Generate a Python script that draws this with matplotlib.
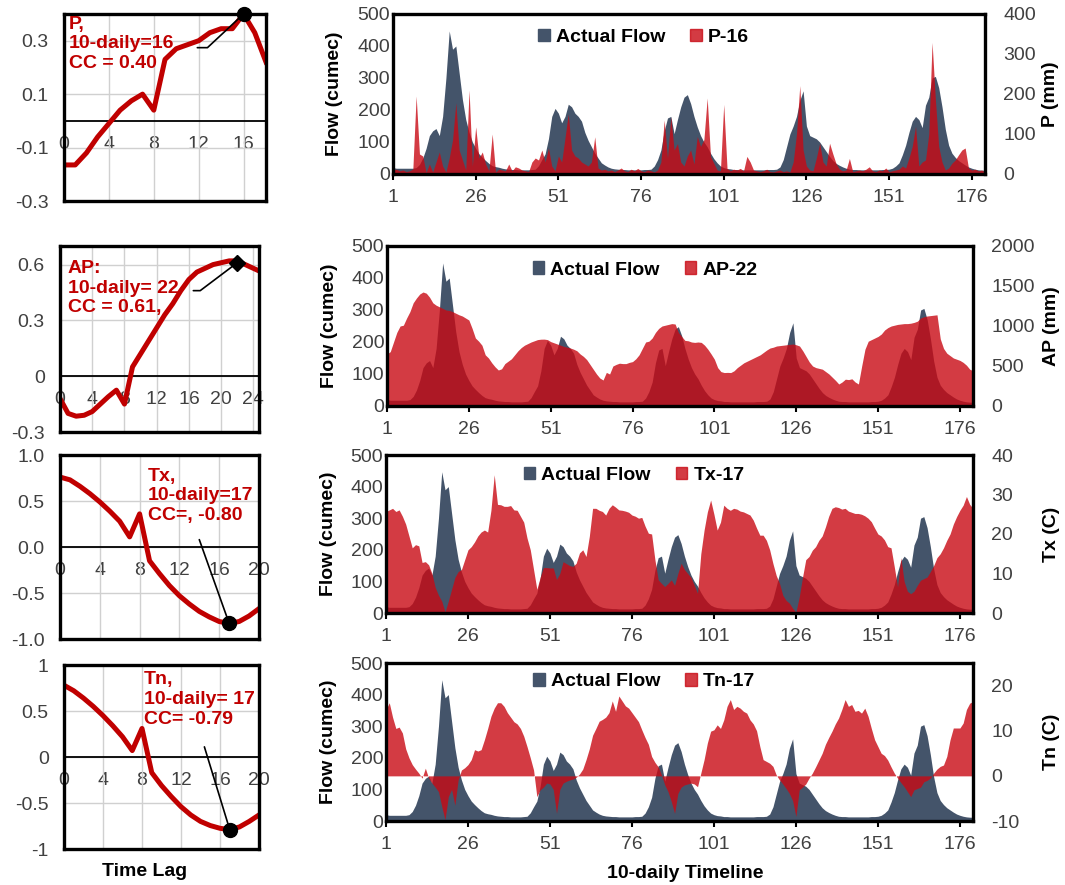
import matplotlib
matplotlib.use("Agg")
import matplotlib.pyplot as plt
from matplotlib.patches import Patch

plt.rcParams["font.family"] = ["Liberation Sans", "DejaVu Sans"]
plt.rcParams["axes.unicode_minus"] = False

W, H = 1065, 885

# cross-correlation vs lag (left column)
lag_p = list(range(0, 19))
cc_p = [-0.165, -0.165, -0.12, -0.06, -0.01, 0.04, 0.075, 0.10, 0.04, 0.23,
        0.27, 0.285, 0.30, 0.33, 0.345, 0.345, 0.40, 0.33, 0.22]
lag_ap = list(range(0, 26))
cc_ap = [-0.12, -0.2, -0.215, -0.21, -0.19, -0.15, -0.11, -0.075, -0.15, 0.05,
         0.12, 0.19, 0.26, 0.33, 0.39, 0.46, 0.52, 0.56, 0.58, 0.60,
         0.61, 0.62, 0.62, 0.60, 0.58, 0.56]
lag_tx = list(range(0, 21))
cc_tx = [0.76, 0.73, 0.66, 0.58, 0.49, 0.39, 0.28, 0.11, 0.36, -0.15,
         -0.29, -0.42, -0.53, -0.62, -0.70, -0.76, -0.81, -0.83, -0.81, -0.75, -0.67]
lag_tn = list(range(0, 21))
cc_tn = [0.78, 0.72, 0.64, 0.55, 0.45, 0.34, 0.22, 0.07, 0.31, -0.17,
         -0.31, -0.43, -0.54, -0.63, -0.70, -0.745, -0.775, -0.79, -0.76, -0.70, -0.63]

# 10-daily timeline (right column)
t = list(range(1, 181))
flow = [20, 18, 18, 18, 18, 18, 18, 20, 30, 50,
        80, 120, 135, 142, 120, 180, 300, 447, 390, 400,
        316, 232, 170, 130, 100, 80, 63, 52, 42, 33,
        26, 23, 21, 18, 16, 15, 14, 14, 13, 13,
        13, 13, 14, 15, 26, 45, 63, 110, 180, 205,
        190, 160, 180, 218, 210, 190, 180, 165, 130, 105,
        85, 65, 50, 35, 28, 22, 18, 16, 15, 14,
        14, 13, 13, 13, 13, 13, 14, 14, 15, 25,
        45, 75, 135, 175, 180, 126, 170, 210, 240, 248,
        220, 180, 147, 120, 100, 85, 65, 48, 35, 25,
        20, 17, 16, 14, 14, 13, 13, 13, 13, 13,
        13, 13, 13, 14, 14, 14, 15, 22, 45, 85,
        125, 150, 180, 230, 260, 150, 120, 115, 110, 100,
        85, 70, 55, 42, 33, 27, 22, 18, 15, 14,
        14, 13, 13, 13, 13, 13, 13, 13, 14, 14,
        15, 18, 25, 35, 60, 90, 130, 165, 180, 170,
        145, 215, 240, 300, 305, 270, 210, 140, 90, 65,
        52, 42, 35, 28, 22, 18, 15, 13, 12, 12]
p16 = [10, 12, 8, 10, 6, 8, 12, 195, 50, 45,
       4, 25, 5, 30, 55, 20, 5, 40, 85, 178,
       60, 35, 10, 210, 20, 118, 40, 55, 25, 8,
       100, 5, 12, 10, 8, 25, 8, 18, 15, 10,
       8, 6, 30, 40, 35, 60, 30, 65, 20, 8,
       45, 30, 90, 150, 60, 45, 40, 30, 25, 20,
       30, 93, 15, 10, 12, 8, 10, 6, 10, 15,
       8, 6, 12, 8, 14, 8, 6, 10, 8, 5,
       10, 30, 135, 40, 143, 60, 76, 30, 20, 45,
       60, 25, 94, 69, 86, 190, 44, 27, 10, 8,
       174, 14, 8, 12, 10, 14, 8, 44, 30, 10,
       8, 6, 8, 12, 6, 5, 8, 10, 6, 8,
       5, 30, 100, 221, 60, 20, 10, 8, 40, 77,
       30, 20, 77, 50, 25, 12, 8, 10, 39, 6,
       8, 10, 8, 12, 18, 8, 6, 10, 8, 15,
       6, 8, 10, 12, 20, 15, 40, 69, 119, 20,
       30, 35, 100, 329, 186, 69, 30, 10, 15, 27,
       35, 48, 60, 65, 15, 10, 12, 8, 10, 5]
ap22 = [650, 680, 800, 920, 1000, 1010, 1100, 1180, 1290, 1350,
        1400, 1425, 1410, 1360, 1290, 1260, 1240, 1220, 1200, 1195,
        1180, 1160, 1140, 1125, 1100, 1075, 970, 850, 810, 760,
        640, 600, 540, 490, 450, 465, 530, 560, 590, 640,
        690, 730, 760, 780, 800, 815, 830, 835, 836, 830,
        805, 790, 775, 760, 745, 735, 725, 710, 690, 650,
        620, 580, 520, 460, 400, 350, 325, 420, 400, 500,
        520, 535, 530, 530, 545, 555, 590, 640, 720, 800,
        810, 850, 920, 970, 1000, 1010, 1020, 1030, 1025, 920,
        870, 820, 815, 800, 795, 800, 795, 760, 710, 650,
        585, 480, 430, 418, 420, 418, 440, 480, 510, 540,
        560, 580, 600, 620, 640, 670, 700, 725, 735, 750,
        755, 760, 765, 770, 775, 765, 750, 690, 620, 550,
        500, 480, 470, 460, 430, 400, 360, 320, 275, 300,
        335, 330, 340, 300, 275, 500, 710, 810, 830, 850,
        870, 900, 950, 980, 1000, 1010, 1020, 1025, 1030, 1030,
        1035, 1045, 1060, 1100, 1115, 1125, 1130, 1135, 1140, 840,
        720, 660, 630, 600, 585, 570, 545, 510, 460, 440]
tx17 = [25.7, 26.1, 26.5, 25.7, 26.1, 24.5, 22.5, 19.5, 16.5, 17.3,
        17, 12.8, 13, 12.2, 10, 6.5, 4.5, 3, 0.3, 3,
        6, 9, 10.5, 11, 13.5, 16, 16.8, 18, 19.5, 20.5,
        21, 20.5, 26, 35, 27.5, 27.4, 27, 27, 27.2, 26.1,
        26, 24.5, 23, 19, 16, 11, 6, 9, 11.5, 11.5,
        11.4, 11.4, 8.5, 10, 13, 12.5, 12, 11.8, 12.6, 15.2,
        16, 14.3, 19.4, 26.5, 26.5, 26, 25.7, 24.8, 26.5, 27.4,
        26.8, 26.1, 26, 25.8, 25.5, 24.8, 24.5, 24, 24.2, 22,
        20.2, 20, 13.5, 8.4, 7.5, 6.7, 7.5, 8.4, 7, 10,
        12.6, 11, 10, 9, 7, 5, 15, 21, 25.6, 28.6,
        25, 21, 23, 27.3, 26.5, 26, 26.5, 26.3, 25.8, 25.6,
        25.2, 24.8, 23.5, 21.5, 19.7, 19.7, 18.4, 16, 12.5, 9.5,
        7.5, 4.5, 3.2, 2.5, 1.2, 0.2, 4, 9, 13.5, 14.3,
        15.9, 16.8, 18.4, 19.5, 21.8, 24.5, 26.5, 26.9, 26.7, 26.3,
        26.5, 25.8, 25.5, 25.2, 25.2, 25, 24.6, 24, 23.1, 21.5,
        20, 19.5, 18.5, 16.8, 16.5, 11.7, 6.6, 14, 8, 5.5,
        4.9, 5.5, 7, 8.3, 8.7, 9.1, 10.5, 12, 14, 15,
        16.5, 18.4, 20, 22.5, 24.4, 26, 27.3, 29.5, 27.5, 26.5]
tn17 = [14.7, 16.2, 13, 10.5, 10.8, 9.5, 6, 4, 2.5, 1.5,
        0.6, -0.5, 1.7, -0.5, -1.6, -2.5, -3.5, -6.8, -9.7, -4.6,
        -3, -6.5, -0.9, 1.3, 1.8, 2.5, 3.6, 5.8, 5.5, 5.8,
        8, 10.5, 13.2, 15, 16.2, 16.2, 15.4, 14, 13, 12,
        11.5, 10.5, 8.8, 6.5, 4, 1.3, -4.6, -3.1, -2.5, -1.6,
        -1.8, -3, -8.3, -3, -1.6, -1.2, -0.9, -0.7, -0.3, 0.4,
        1.5, 3.6, 6, 9, 10.5, 12.1, 12.5, 13, 14, 16.6,
        14.3, 17.7, 16.6, 15.5, 15, 14, 13, 12, 10.2, 8.5,
        7, 4.3, 3, 2, 0.2, -2, -3.5, -5.7, -8.3, -3.9,
        -2.5, -2, -1.8, -1.6, -1.8, -2.4, 0.6, 3.6, 7.3, 9.9,
        10.2, 11.3, 10.5, 12.4, 15.4, 16.9, 14.7, 15.4, 15, 14.3,
        13.9, 12.4, 11.5, 10, 6.5, 3.6, 3.2, 2.8, 2.1, 0.2,
        -0.9, -1.8, -2.8, -3.9, -5.5, -9, -3.1, -2.5, -1.8, -0.5,
        0.6, 2, 3.5, 5, 7, 8.5, 9.9, 11.5, 12.8, 14.7,
        16.9, 15.4, 15.8, 14.3, 14.5, 13.9, 15, 13.2, 10.5, 8,
        6.5, 5, 4.5, 3.5, 2, 0.6, -0.5, -1.5, -2.4, -3.5,
        -4.6, -3.1, -2.8, -2.5, -1.3, -1, -0.5, 0.6, 1.5, 2.1,
        2.4, 4.3, 8, 10.6, 10.6, 10.6, 11.7, 14.7, 16.1, 16.5]

timeline_ticks = [1, 26, 51, 76, 101, 126, 151, 176]

flow_color = "#44546a"
red_fill = "#c80a14"
red_line = "#c00000"
tick_color = "#404040"

fig = plt.figure(figsize=(W / 100, H / 100), dpi=100)
fig.patch.set_facecolor("white")


def px_axes(l, t, r, b):
    return fig.add_axes([l / W, 1 - b / H, (r - l) / W, (b - t) / H])


def lag_panel(box, lags, cc, xmax, xticks, ylim, yticks, ylabels,
              best, marker, note, note_xy, lead_xy, conn):
    ax = px_axes(*box)
    ax.set_xlim(0, xmax)
    ax.set_ylim(*ylim)
    ax.set_xticks(xticks)
    ax.set_yticks(yticks)
    ax.set_yticklabels(ylabels)
    ax.grid(True, color="#d0d0d0", lw=1.0, zorder=0)
    ax.tick_params(axis="x", length=0, labelbottom=False)
    ax.tick_params(axis="y", length=0, pad=11, labelsize=14, labelcolor=tick_color)
    ax.axhline(0, color="black", lw=1.3, zorder=2)
    ax.plot(lags, cc, color=red_line, lw=3.6, zorder=3, solid_joinstyle="round")
    ms = 10 if marker == "o" else 8
    ax.plot([best[0]], [best[1]], marker=marker, color="black", ms=ms,
            zorder=5, clip_on=False)
    sec = ax.secondary_xaxis(0, transform=ax.transData)
    sec.set_xticks(xticks)
    sec.tick_params(length=0, pad=11, labelsize=14, labelcolor=tick_color)
    sec.spines["bottom"].set_visible(False)
    ax.text(note_xy[0], note_xy[1], note, transform=ax.transAxes, ha="left",
            va="top", color=red_line, fontsize=14, fontweight="bold",
            linespacing=1.2, zorder=6)
    ax.annotate("", xy=best, xycoords="data", xytext=lead_xy,
                textcoords="axes fraction",
                arrowprops=dict(arrowstyle="-", color="black", lw=1.2,
                                shrinkA=0, shrinkB=4, connectionstyle=conn))
    for s in ax.spines.values():
        s.set_linewidth(2.4)
        s.set_zorder(4)
    return ax


def flow_panel(box, series, ylim2, yticks2, label2, label2_x, name, leg_xy):
    ax = px_axes(*box)
    ax.fill_between(t, 0, flow, color=flow_color, lw=0)
    ax.set_xlim(1, 180)
    ax.set_ylim(0, 500)
    ax.set_yticks(range(0, 501, 100))
    ax.set_xticks(timeline_ticks)
    ax.tick_params(axis="x", direction="out", length=4, width=1.5,
                   pad=7, labelsize=14, labelcolor=tick_color)
    ax.tick_params(axis="y", length=0, pad=2, labelsize=14, labelcolor=tick_color)
    ax.set_ylabel("Flow (cumec)", fontsize=14, fontweight="bold")
    ax.yaxis.set_label_coords(-0.084, 0.5)
    for s in ax.spines.values():
        s.set_visible(False)

    ax2 = ax.twinx()
    ax2.fill_between(t, 0, series, color=red_fill, alpha=0.8, lw=0)
    ax2.set_ylim(*ylim2)
    ax2.set_yticks(yticks2)
    ax2.tick_params(axis="y", length=0, pad=13, labelsize=14, labelcolor=tick_color)
    ax2.set_ylabel(label2, fontsize=14, fontweight="bold")
    ax2.yaxis.set_label_coords(label2_x, 0.5)
    for s in ax2.spines.values():
        s.set_linewidth(2.4)
        s.set_color("black")

    handles = [Patch(color=flow_color), Patch(color=red_fill, alpha=0.8)]
    ax2.legend(handles, ["Actual Flow", name], loc="center",
               bbox_to_anchor=leg_xy, ncol=2, frameon=False,
               handlelength=0.6, handleheight=0.6, handletextpad=0.3,
               columnspacing=1.3, borderpad=0,
               prop=dict(weight="bold", size=14))
    return ax, ax2


# left column
lag_panel((64, 14, 266, 201), lag_p, cc_p, 18, [0, 4, 8, 12, 16],
          (-0.3, 0.4), [-0.3, -0.1, 0.1, 0.3], ["-0.3", "-0.1", "0.1", "0.3"],
          (16, 0.40), "o", "P,\n10-daily=16\nCC = 0.40", (0.025, 0.99),
          (0.66, 0.82), "angle,angleA=0,angleB=43,rad=0")
lag_panel((60, 246, 259, 432), lag_ap, cc_ap, 24.7, [0, 4, 8, 12, 16, 20, 24],
          (-0.3, 0.7), [-0.3, 0, 0.3, 0.6], ["-0.3", "0", "0.3", "0.6"],
          (22, 0.61), "D", "AP:\n10-daily= 22\nCC = 0.61,", (0.04, 0.925),
          (0.67, 0.76), "angle,angleA=0,angleB=37,rad=0")
lag_panel((60, 455, 259, 639), lag_tx, cc_tx, 20, [0, 4, 8, 12, 16, 20],
          (-1, 1), [-1, -0.5, 0, 0.5, 1], ["-1.0", "-0.5", "0.0", "0.5", "1.0"],
          (17, -0.83), "o", "Tx,\n10-daily=17\nCC=, -0.80", (0.44, 0.93),
          (0.70, 0.54), "arc3,rad=0")
lag_panel((64, 665, 259, 849), lag_tn, cc_tn, 20, [0, 4, 8, 12, 16, 20],
          (-1, 1), [-1, -0.5, 0, 0.5, 1], ["-1", "-0.5", "0", "0.5", "1"],
          (17, -0.79), "o", "Tn,\n10-daily= 17\nCC= -0.79", (0.41, 0.965),
          (0.72, 0.555), "arc3,rad=0")

# right column
flow_panel((393, 14, 985, 174), p16, (0, 400), range(0, 401, 100),
           "P (mm)", 1.097, "P-16", (0.423, 0.856))
flow_panel((387, 246, 973, 406), ap22, (0, 2000), range(0, 2001, 500),
           "AP (mm)", 1.12, "AP-22", (0.44, 0.85))
flow_panel((386, 455, 973, 613), tx17, (0, 40), range(0, 41, 10),
           "Tx (C)", 1.12, "Tx-17", (0.4225, 0.873))
flow_panel((386, 663, 973, 821), tn17, (-10, 25), [-10, 0, 10, 20],
           "Tn (C)", 1.12, "Tn-17", (0.44, 0.88))

fig.text(685 / W, 1 - 873 / H, "10-daily Timeline", ha="center", va="center",
         fontsize=14, fontweight="bold")
fig.text(145 / W, 1 - 872 / H, "Time Lag", ha="center", va="center",
         fontsize=14, fontweight="bold")

fig.savefig("out.png", dpi=100, facecolor="white")
